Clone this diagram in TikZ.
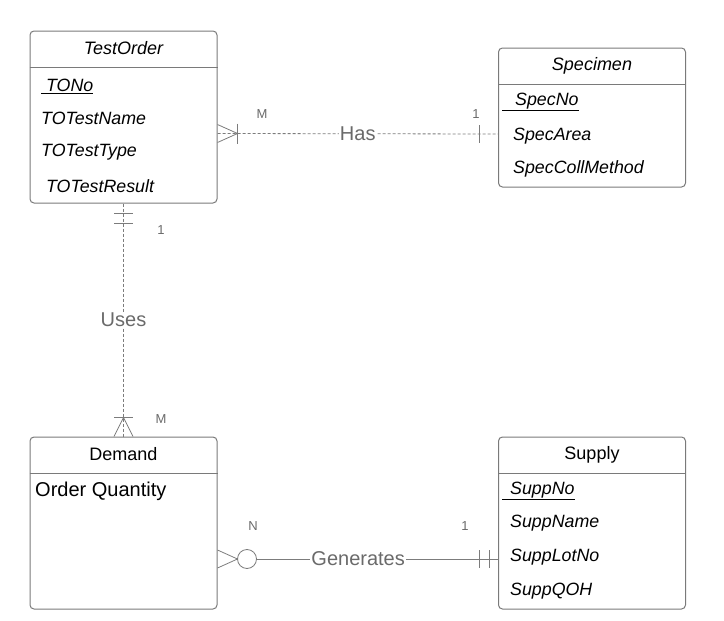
\documentclass[tikz,border=0pt]{standalone}
\usepackage{fontspec}
\setmainfont{Liberation Sans}
\definecolor{boxgray}{HTML}{7A7A7A}
\definecolor{linegray}{HTML}{7C7C7C}
\definecolor{labelgray}{HTML}{6A6A6A}
\begin{document}
\begin{tikzpicture}[x=1pt,y=-1pt,
	entity/.style={draw=boxgray,rounded corners=4pt,line width=1pt,minimum width=187pt,inner sep=0pt},
	head/.style={font=\fontsize{18}{20}\selectfont,inner sep=0pt},
	attr/.style={font=\fontsize{17.8}{20}\selectfont\itshape,anchor=west,inner sep=0pt},
	rel/.style={draw=linegray,line width=0.8pt},
	reldash/.style={rel,dash pattern=on 3pt off 2pt},
	rlabel/.style={fill=white,text=labelgray,font=\fontsize{20}{22}\selectfont,inner sep=1pt},
	card/.style={text=labelgray,font=\fontsize{13}{15}\selectfont,inner sep=0pt}]
\useasboundingbox (0,0) rectangle (724,621);

% entities
\node[entity,minimum height=172pt] at (123.5,117) (TO) {};
\node[entity,minimum height=139pt] at (592,117.5) (Spec) {};
\node[entity,minimum height=172pt] at (123.5,523) (Dem) {};
\node[entity,minimum height=172pt] at (592,523) (Sup) {};

\draw[draw=boxgray,line width=1pt] ([yshift=-37pt]TO.north west) -- ([yshift=-37pt]TO.north east);
\draw[draw=boxgray,line width=1pt] ([yshift=-37pt]Spec.north west) -- ([yshift=-37pt]Spec.north east);
\draw[draw=boxgray,line width=1pt] ([yshift=-37pt]Dem.north west) -- ([yshift=-37pt]Dem.north east);
\draw[draw=boxgray,line width=1pt] ([yshift=-37pt]Sup.north west) -- ([yshift=-37pt]Sup.north east);

\node[head] at (123.5,48) (TOhead) {\itshape TestOrder};
\node[head] at (592,66) (Spechead) {\itshape Specimen};
\node[head] at (123.5,454) (Demhead) {Demand};
\node[head] at (592,455) (Suphead) {Supply};

% attributes
\foreach \n/\x/\y/\t in {TONo/41/86/{\underline{\ TONo}},TOName/41/118/{TOTestName},
	TOType/41/152/{TOTestType},TOResult/41/186/{\ TOTestResult},
	SpecNo/502/102/{\underline{\hspace{13pt}SpecNo}},SpecArea/513/136/{SpecArea},
	SpecMeth/513/169/{SpecCollMethod},
	SuppNo/502/491/{\underline{\hspace{8pt}SuppNo}},SuppName/510/523/{SuppName},
	SuppLot/510/557/{SuppLotNo},SuppQOH/510/591/{SuppQOH}}
	\node[attr] at (\x,\y) (\n) {\t};
\node[attr,font=\fontsize{20}{22}\selectfont] at (35,491) (OrdQty) {Order Quantity};

% Has
\coordinate (hasA) at ([yshift=-16.5pt]TO.east);
\coordinate (hasB) at ([yshift=-16.5pt]Spec.west);
\draw[reldash] (hasA) -- node[rlabel] (has) {Has} (hasB);
\draw[rel] ([yshift=9pt]hasA) -- ([xshift=20pt]hasA) -- ([yshift=-9pt]hasA);
\draw[rel] ([xshift=20pt,yshift=10pt]hasA) -- ([xshift=20pt,yshift=-10pt]hasA);
\draw[rel] ([xshift=-19pt,yshift=9pt]hasB) -- ([xshift=-19pt,yshift=-9pt]hasB);
\node[card] at (262,114) (hasM) {M};
\node[card] at (476,114) (has1) {1};

% Uses
\draw[reldash] (TO.south) -- node[rlabel] (uses) {Uses} (Dem.north);
\draw[rel] ([xshift=-9.5pt,yshift=-10pt]TO.south) -- ([xshift=9.5pt,yshift=-10pt]TO.south);
\draw[rel] ([xshift=-9.5pt,yshift=-20pt]TO.south) -- ([xshift=9.5pt,yshift=-20pt]TO.south);
\draw[rel] ([xshift=-9.5pt]Dem.north) -- ([yshift=19pt]Dem.north) -- ([xshift=9.5pt]Dem.north);
\draw[rel] ([xshift=-9.5pt,yshift=19pt]Dem.north) -- ([xshift=9.5pt,yshift=19pt]Dem.north);
\node[card] at (161,230) (uses1) {1};
\node[card] at (161,419) (usesM) {M};

% Generates
\coordinate (genA) at ([yshift=-36pt]Dem.east);
\coordinate (genB) at ([yshift=-36pt]Sup.west);
\draw[rel] ([yshift=9pt]genA) -- ([xshift=20pt]genA) -- ([yshift=-9pt]genA);
\node[circle,draw=linegray,line width=0.8pt,minimum size=19pt,inner sep=0pt] at ([xshift=29.5pt]genA) (genO) {};
\draw[rel] (genO) -- node[rlabel,pos=0.42] (gen) {Generates} (genB);
\draw[rel] ([xshift=-19pt,yshift=9pt]genB) -- ([xshift=-19pt,yshift=-9pt]genB);
\draw[rel] ([xshift=-9pt,yshift=9pt]genB) -- ([xshift=-9pt,yshift=-9pt]genB);
\node[card] at (253,526) (genN) {N};
\node[card] at (465,526) (gen1) {1};
\end{tikzpicture}
\end{document}
